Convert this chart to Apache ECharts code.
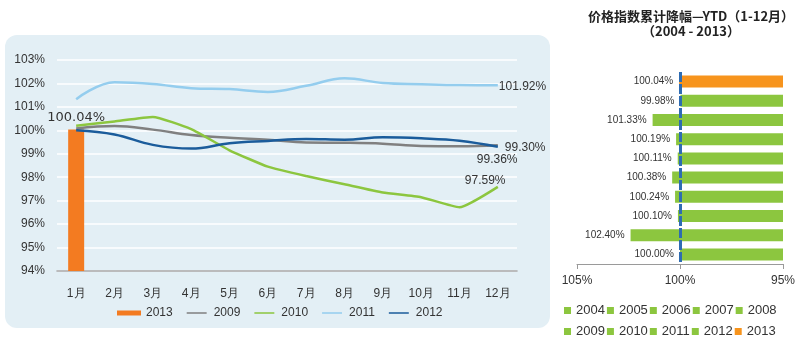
<!DOCTYPE html>
<html><head><meta charset="utf-8">
<script src="https://cdn.jsdelivr.net/npm/echarts@6/dist/echarts.min.js"></script>
<style>html,body{margin:0;padding:0;background:#fff;}#c{width:800px;height:341px;}</style>
</head><body><div id="c"></div>
<script>
// ---- left chart data ----
var months = ['1月','2月','3月','4月','5月','6月','7月','8月','9月','10月','11月','12月'];
var yTicks = [94, 95, 96, 97, 98, 99, 100, 101, 102, 103];
var bar2013 = [100.04];
var s2009 = [100.08, 100.18, 100.03, 99.80, 99.68, 99.60, 99.48, 99.47, 99.43, 99.33, 99.32, 99.36];
var s2010 = [100.20, 100.38, 100.57, 100.05, 99.15, 98.45, 98.05, 97.70, 97.35, 97.15, 96.72, 97.59];
var s2011 = [101.33, 102.05, 101.98, 101.80, 101.76, 101.64, 101.90, 102.22, 102.02, 101.97, 101.93, 101.92];
var s2012 = [100.00, 99.82, 99.38, 99.22, 99.45, 99.55, 99.63, 99.60, 99.70, 99.66, 99.56, 99.30];

// ---- right chart data ----
var ytdYears = ['2013','2012','2011','2010','2009','2008','2007','2006','2005','2004'];
var ytdValues = [100.04, 99.98, 101.33, 100.19, 100.11, 100.38, 100.24, 100.10, 102.40, 100.00];
var xTicksRight = [95, 100, 105];
var legendRow1 = ['2004','2005','2006','2007','2008'];
var legendRow2 = ['2009','2010','2011','2012','2013'];

var FONT = 'Liberation Sans, Arial, sans-serif';
var LINE_ICON = 'path://M0,0h0.01v0.01h-0.01z M0,2h24v2h-24z M0,6h0.01v0.01h-0.01z';
var chart = echarts.init(document.getElementById('c'), null, {renderer:'canvas'});

var rightSeries = ytdYears.map(function(y, i){
  var d = ytdYears.map(function(_, j){ return j === i ? ytdValues[i] : '-'; });
  var s = {
    name: 'r' + y, type: 'bar', xAxisIndex: 1, yAxisIndex: 1,
    data: d, barWidth: 12, barGap: '-100%',
    itemStyle: {color: y === '2013' ? '#f7941d' : '#8cc63f'},
    label: {show: true, position: 'left', distance: 6, fontSize: 10, color: '#333', fontFamily: FONT,
      formatter: function(p){ return p.value.toFixed(2) + '%'; }},
    z: 2
  };
  if (i === 0) {
    s.markLine = {silent: true, symbol: 'none', label: {show: false},
      lineStyle: {color: '#2e6cb2', width: 3, type: [10, 2]},
      data: [{xAxis: 100}], z: 5};
  }
  return s;
});

function lineSeries(name, data, color, off, smooth){
  return {
    name: name, type: 'line', data: data, smooth: smooth, symbol: 'none',
    xAxisIndex: 0, yAxisIndex: 0,
    lineStyle: {color: color, width: 2.5}, itemStyle: {color: color},
    endLabel: {show: true, distance: 0, offset: off, fontSize: 12, color: '#333', fontFamily: FONT,
      formatter: function(p){ return p.value.toFixed(2) + '%'; }},
    z: 3
  };
}

var option = {
  animation: false,
  backgroundColor: '#ffffff',
  textStyle: {fontFamily: FONT},
  graphic: [{
    type: 'rect', left: 5, top: 35, z: -10, silent: true,
    shape: {width: 545, height: 293, r: 12},
    style: {fill: '#e3eff5'}
  }],
  title: {
    text: '价格指数累计降幅—YTD（1-12月）\n（2004 - 2013）',
    left: 686, top: 4, textAlign: 'center',
    textStyle: {fontSize: 13, fontWeight: 'bold', color: '#222', lineHeight: 15,
      fontFamily: 'Noto Sans CJK SC, sans-serif'}
  },
  legend: [{
    left: 117, top: 307, padding: 0, itemWidth: 24, itemHeight: 5, itemGap: 14, itemTextGap: 3,
    textStyle: {fontSize: 12, color: '#333', fontFamily: FONT},
    data: [{name: '2013', icon: 'rect'},
      {name: '2009', icon: LINE_ICON}, {name: '2010', icon: LINE_ICON},
      {name: '2011', icon: LINE_ICON}, {name: '2012', icon: LINE_ICON}]
  }, {
    left: 564, top: 304, padding: 0, itemWidth: 7, itemHeight: 7, itemGap: 2, itemTextGap: 3, icon: 'rect',
    textStyle: {fontSize: 13, color: '#333', fontFamily: FONT},
    formatter: function(n){ return n.slice(1); },
    data: legendRow1.map(function(y){ return 'r' + y; })
  }, {
    left: 564, top: 325, padding: 0, itemWidth: 7, itemHeight: 7, itemGap: 2, itemTextGap: 3, icon: 'rect',
    textStyle: {fontSize: 13, color: '#333', fontFamily: FONT},
    formatter: function(n){ return n.slice(1); },
    data: legendRow2.map(function(y){ return 'r' + y; })
  }],
  grid: [
    {left: 57, right: 283, top: 60, bottom: 70, containLabel: false},
    {left: 577, right: 17, top: 72, bottom: 77, containLabel: false}
  ],
  xAxis: [{
    gridIndex: 0, type: 'category', data: months, boundaryGap: true,
    axisLine: {show: true, lineStyle: {color: '#a6a6a6', width: 1.5}},
    axisTick: {show: false},
    axisLabel: {fontSize: 12, color: '#333', margin: 17, interval: 0, fontFamily: FONT}
  }, {
    gridIndex: 1, type: 'value', min: xTicksRight[0], max: xTicksRight[2], interval: 5, inverse: true,
    splitLine: {show: false},
    axisLine: {show: true, lineStyle: {color: '#9a9a9a'}},
    axisTick: {show: true, length: 5, lineStyle: {color: '#9a9a9a'}},
    axisLabel: {fontSize: 12, color: '#333', margin: 11, fontFamily: FONT,
      formatter: '{value}%'}
  }],
  yAxis: [{
    gridIndex: 0, type: 'value', min: yTicks[0], max: yTicks[yTicks.length - 1], interval: 1,
    axisLine: {show: false}, axisTick: {show: false},
    splitLine: {show: true, lineStyle: {color: '#ffffff', width: 1.5}},
    axisLabel: {fontSize: 12, color: '#333', margin: 12, fontFamily: FONT, formatter: '{value}%'}
  }, {
    gridIndex: 1, type: 'category', data: ytdYears, inverse: true,
    axisLine: {show: false}, axisTick: {show: false}, axisLabel: {show: false}
  }],
  series: [{
    name: '2013', type: 'bar', data: bar2013, barWidth: 16,
    xAxisIndex: 0, yAxisIndex: 0,
    itemStyle: {color: '#f37b21'},
    label: {show: true, position: 'top', distance: 5, fontSize: 13, color: '#333',
      fontFamily: 'DejaVu Sans, sans-serif',
      formatter: function(p){ return p.value.toFixed(2) + '%'; }},
    z: 1
  },
  lineSeries('2009', s2009, '#808080', [-21, 14], 0.4),
  lineSeries('2010', s2010, '#8cc63f', [-33, -6], 0.15),
  lineSeries('2011', s2011, '#94cdee', [1, 1], 0.4),
  lineSeries('2012', s2012, '#1b5c9b', [7, 1], 0.4)
  ].concat(rightSeries)
};
chart.setOption(option);
</script>
</body></html>
